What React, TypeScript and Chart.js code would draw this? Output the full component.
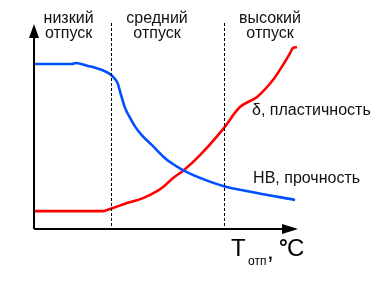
import React, { useEffect, useRef } from "react";
import { Chart, registerables } from "chart.js";

Chart.register(...registerables);

// Tempering temperature (relative units, 0..100) and properties (relative units, 0..100)
const hbX = [0, 14.4, 15.9, 20.5, 23.1, 28.8, 30.7, 31.7, 32.6, 34.5, 36.4, 38.3, 40.8, 44.6, 49.0, 51.5, 56.4, 62.9, 71.6, 84.5, 98.9];
const hbY = [80.1, 80.1, 80.6, 79.1, 78.3, 75.2, 72.8, 70.7, 66.7, 58.7, 53.9, 49.7, 45.6, 40.8, 35.1, 32.5, 28.6, 24.8, 20.9, 17.5, 14.1];

const deltaX = [0, 26.1, 28.8, 35.2, 41.3, 46.6, 48.9, 52.7, 56.4, 62.9, 71.6, 78.0, 84.5, 90.5, 94.3, 97.0, 98.1, 99.6];
const deltaY = [8.7, 8.7, 9.7, 12.6, 15.0, 18.4, 20.4, 24.8, 28.2, 35.9, 48.5, 59.2, 64.1, 72.3, 79.6, 85.4, 87.9, 88.3];

// Zone boundaries (dashed lines) and zone labels
const zoneBounds = [29.0, 71.8];
const zoneLabels = [
  ["низкий", "отпуск"],
  ["средний", "отпуск"],
  ["высокий", "отпуск"],
];
const zoneLabelX = [13.1, 46.6, 89.4];

// Curve labels
const curveLabels = ["δ, пластичность", "НВ, прочность"];
const curveLabelX = [82.6, 83.0];
const curveLabelY = [55.3, 22.3];

const FONT = '"Liberation Sans", Arial, sans-serif';

const decorPlugin = {
  id: "decor",
  afterDatasetsDraw(chart: any) {
    const ctx: CanvasRenderingContext2D = chart.ctx;
    const xs = chart.scales.x;
    const ys = chart.scales.y;
    const area = chart.chartArea;
    const x0 = Math.round(xs.getPixelForValue(0));
    const y0 = Math.round(ys.getPixelForValue(0));
    ctx.save();

    // dashed zone lines
    ctx.strokeStyle = "#000";
    ctx.lineWidth = 1;
    ctx.setLineDash([3, 2]);
    zoneBounds.forEach((b) => {
      const px = Math.round(xs.getPixelForValue(b)) + 0.5;
      ctx.beginPath();
      ctx.moveTo(px, area.top);
      ctx.lineTo(px, y0);
      ctx.stroke();
    });
    ctx.setLineDash([]);

    // axes
    ctx.lineWidth = 2;
    ctx.beginPath();
    ctx.moveTo(x0, y0);
    ctx.lineTo(x0, area.top + 4);
    ctx.moveTo(x0, y0);
    ctx.lineTo(area.right - 4, y0);
    ctx.stroke();
    // arrows
    ctx.fillStyle = "#000";
    ctx.beginPath();
    ctx.moveTo(x0, area.top + 1);
    ctx.lineTo(x0 - 5, area.top + 15);
    ctx.lineTo(x0 + 5, area.top + 15);
    ctx.closePath();
    ctx.fill();
    ctx.beginPath();
    ctx.moveTo(area.right, y0);
    ctx.lineTo(area.right - 16, y0 - 5);
    ctx.lineTo(area.right - 16, y0 + 5);
    ctx.closePath();
    ctx.fill();

    // zone labels
    ctx.fillStyle = "#111";
    ctx.font = `16px ${FONT}`;
    ctx.textAlign = "center";
    ctx.textBaseline = "alphabetic";
    zoneLabels.forEach((lines, i) => {
      const px = xs.getPixelForValue(zoneLabelX[i]);
      lines.forEach((t, j) => ctx.fillText(t, px, 23 + j * 15));
    });

    // curve labels
    ctx.textAlign = "left";
    curveLabels.forEach((t, i) => {
      ctx.fillText(t, xs.getPixelForValue(curveLabelX[i]), ys.getPixelForValue(curveLabelY[i]));
    });

    // axis title: T_отп, °C
    ctx.fillStyle = "#000";
    ctx.font = `24px ${FONT}`;
    ctx.fillText("T", 231, 256);
    ctx.font = `12px ${FONT}`;
    ctx.fillText("отп", 248, 265);
    ctx.font = `24px ${FONT}`;
    ctx.fillText(",", 267, 259);
    ctx.font = `bold 22px ${FONT}`;
    ctx.fillText("°", 279, 255);
    ctx.font = `24px ${FONT}`;
    ctx.fillText("C", 287, 256);

    ctx.restore();
  },
};

export default function App() {
  const ref = useRef<HTMLCanvasElement | null>(null);
  useEffect(() => {
    if (!ref.current) return;
    const chart = new Chart(ref.current, {
      type: "line",
      data: {
        datasets: [
          {
            label: "НВ, прочность",
            data: hbX.map((x, i) => ({ x, y: hbY[i] })),
            borderColor: "#0050ff",
            borderWidth: 2.6,
            pointRadius: 0,
            cubicInterpolationMode: "monotone",
            fill: false,
          },
          {
            label: "δ, пластичность",
            data: deltaX.map((x, i) => ({ x, y: deltaY[i] })),
            borderColor: "#ff0000",
            borderWidth: 2.6,
            pointRadius: 0,
            cubicInterpolationMode: "monotone",
            fill: false,
          },
        ],
      },
      options: {
        animation: false,
        responsive: false,
        devicePixelRatio: 1,
        layout: { padding: { left: 34, top: 23, right: 94, bottom: 61 } },
        plugins: { legend: { display: false }, tooltip: { enabled: false } },
        scales: {
          x: { type: "linear", min: 0, max: 100, display: false },
          y: { type: "linear", min: 0, max: 100, display: false },
        },
      },
      plugins: [decorPlugin],
    });
    return () => chart.destroy();
  }, []);
  return (
    <div style={{ position: "absolute", left: 0, top: 0, width: 392, height: 290, background: "#fff" }}>
      <canvas ref={ref} width={392} height={290} style={{ display: "block" }} />
    </div>
  );
}
